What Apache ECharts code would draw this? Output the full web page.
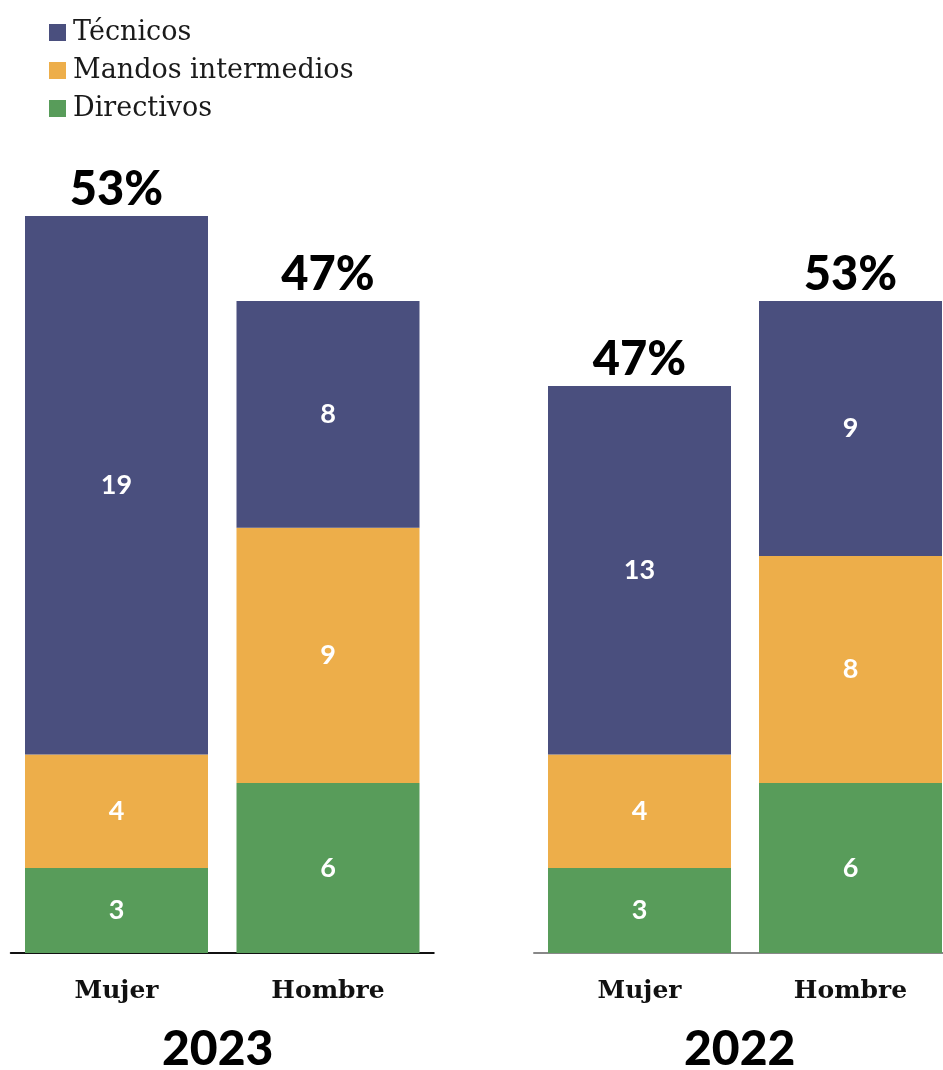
<!DOCTYPE html>
<html><head><meta charset="utf-8">
<script src="https://cdn.jsdelivr.net/npm/echarts@6/dist/echarts.min.js"></script>
<style>html,body{margin:0;padding:0;background:#fff;overflow:hidden}#c{width:960px;height:1070px}</style>
</head><body><div id="c"></div>
<script>
const categories = ['Mujer', 'Hombre'];
const seriesNames = ['Directivos', 'Mandos intermedios', 'Técnicos'];
const years = ['2023', '2022'];
const directivos2023 = [3, 6];
const mandos2023 = [4, 9];
const tecnicos2023 = [19, 8];
const directivos2022 = [3, 6];
const mandos2022 = [4, 8];
const tecnicos2022 = [13, 9];
const colors = ['#589c5a', '#edae4a', '#4a4f7e'];

const data = [
  [directivos2023, mandos2023, tecnicos2023],
  [directivos2022, mandos2022, tecnicos2022]
];

const chart = echarts.init(document.getElementById('c'));
const grids = [
  { left: 10.75, width: 423, top: 102.5, bottom: 117 },
  { left: 534, width: 422, top: 102.5, bottom: 117 }
];
const axisColors = ['#111', '#888'];
const series = [];
data.forEach((grp, gi) => {
  grp.forEach((vals, si) => {
    series.push({
      name: seriesNames[si], type: 'bar', stack: 's' + gi,
      xAxisIndex: gi, yAxisIndex: gi,
      barWidth: 183, itemStyle: { color: colors[si] },
      data: vals,
      label: { show: true, position: 'inside', color: '#fff', fontFamily: 'Lato', fontWeight: 'bold', fontSize: 27 }
    });
  });
  const totals = categories.map((c, i) => grp.reduce((a, s) => a + s[i], 0));
  const sum = totals.reduce((a, b) => a + b, 0);
  series.push({
    type: 'scatter', xAxisIndex: gi, yAxisIndex: gi, symbolSize: 0, silent: true,
    itemStyle: { opacity: 1 },
    data: totals,
    label: { show: true, position: 'top', distance: 3, color: '#000', opacity: 1, fontFamily: 'Lato', fontWeight: 900, fontSize: 47,
      formatter: p => Math.round(p.value / sum * 100) + '%' }
  });
});

chart.setOption({
  animation: false,
  legend: {
    orient: 'vertical', left: 49, top: 19, padding: 0, itemWidth: 17, itemHeight: 17, itemGap: 11, icon: 'rect',
    data: ['Técnicos', 'Mandos intermedios', 'Directivos'],
    textStyle: { fontFamily: 'DejaVu Serif', fontSize: 27, color: '#1a1a1a', padding: [0, 0, 0, 2] }
  },
  grid: grids,
  xAxis: grids.map((g, i) => ({
    type: 'category', gridIndex: i, data: categories,
    axisLine: { lineStyle: { color: axisColors[i], width: 2 } },
    axisTick: { show: false },
    axisLabel: { margin: 26, color: '#111', fontFamily: 'DejaVu Serif', fontWeight: 'bold', fontSize: 25 }
  })),
  yAxis: grids.map((g, i) => ({
    type: 'value', gridIndex: i, min: 0, max: 30, show: false, splitLine: { show: false }
  })),
  graphic: years.map((y, i) => ({
    type: 'text', left: i === 0 ? 162 : 684, top: 1026,
    style: { text: y, fill: '#000', font: '900 48px Lato' }
  })),
  series: series
});
</script></body></html>
